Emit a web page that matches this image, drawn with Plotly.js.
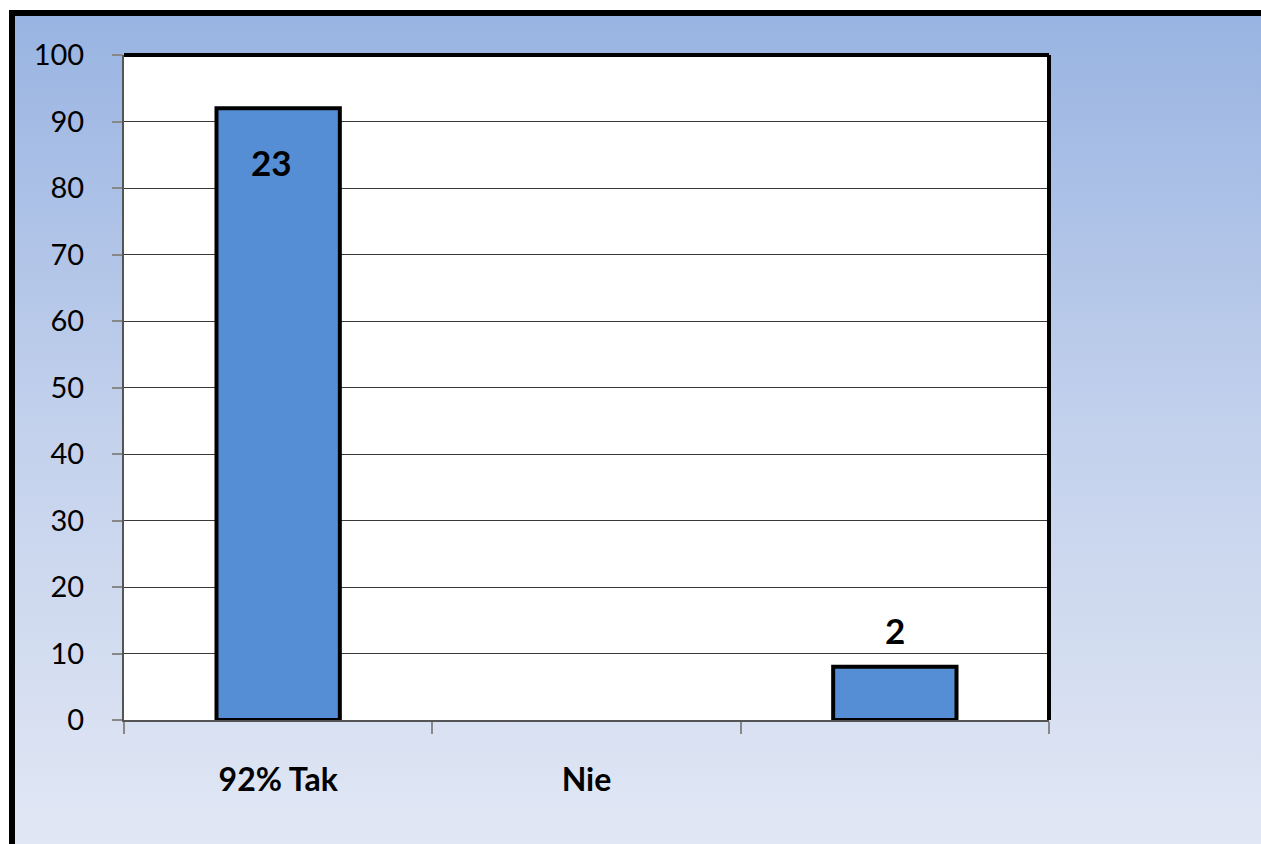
<!DOCTYPE html>
<html>
<head>
<meta charset="utf-8">
<script src="https://cdn.plot.ly/plotly-3.0.1.min.js"></script>
<style>
  html, body { margin: 0; padding: 0; width: 1261px; height: 844px; overflow: hidden; background: #ffffff; }
  #frame {
    position: absolute; left: 9px; top: 10px; width: 1252px; height: 834px;
    box-sizing: border-box; border-left: 6px solid #000; border-top: 6px solid #000;
    background: linear-gradient(to bottom, #99b4e2 0%, #c3d1ec 50%, #e1e7f4 100%);
  }
  #chart { position: absolute; left: 0; top: 0; width: 1261px; height: 844px; }
</style>
</head>
<body>
<div id="frame"></div>
<div id="chart"></div>
<script>
// Data
const categories = ["92% Tak", "Nie", ""];
const percentValues = [92, 0, 8];
const countLabels = ["23", "", "2"];
const yTickValues = [0, 10, 20, 30, 40, 50, 60, 70, 80, 90, 100];

const xIdx = categories.map((c, i) => i);

const trace = {
  type: "bar",
  x: xIdx,
  y: percentValues,
  width: 0.4,
  marker: {
    color: "#558ed5",
    line: { color: "#000000", width: percentValues.map(v => v > 0 ? 4 : 0) }
  },
  hoverinfo: "skip"
};

const annotations = [];
countLabels.forEach((t, i) => {
  if (!t) return;
  const inside = percentValues[i] > 50;
  annotations.push({
    x: xIdx[i], y: percentValues[i], xref: "x", yref: "y",
    text: "<b>" + t + "</b>", showarrow: false,
    xshift: inside ? -7 : 0,
    yanchor: inside ? "top" : "bottom",
    yshift: inside ? -31 : 14,
    font: { family: "Lato, 'Open Sans', sans-serif", size: 35, color: "#000000" }
  });
});

const layout = {
  width: 1261, height: 844,
  margin: { l: 124, r: 212, t: 55, b: 124 },
  paper_bgcolor: "rgba(0,0,0,0)",
  plot_bgcolor: "#ffffff",
  showlegend: false,
  xaxis: {
    range: [-0.5, 2.5],
    tickmode: "array", tickvals: xIdx,
    ticktext: categories.map(c => c ? "<b>" + c + "</b>" : ""),
    ticks: "", ticklabelstandoff: 31,
    tickfont: { family: "Lato, 'Open Sans', sans-serif", size: 32, color: "#000000" },
    showgrid: false, zeroline: false,
    showline: true, linecolor: "#555555", linewidth: 2,
    minor: { tick0: -0.5, dtick: 1, ticks: "outside", ticklen: 12, tickcolor: "#888888", tickwidth: 2, showgrid: false },
    fixedrange: true
  },
  yaxis: {
    range: [0, 100],
    tickmode: "array", tickvals: yTickValues,
    ticks: "outside", ticklen: 10, tickcolor: "#888888", tickwidth: 2,
    ticklabelstandoff: 22,
    tickfont: { family: "Lato, 'Open Sans', sans-serif", size: 29, color: "#000000" },
    showgrid: true, gridcolor: "#3a3a3a", gridwidth: 1,
    zeroline: false,
    showline: true, linecolor: "#555555", linewidth: 2,
    fixedrange: true
  },
  shapes: [
    { type: "line", xref: "paper", yref: "paper", x0: 0, x1: 1, y0: 1, y1: 1, line: { color: "#000000", width: 4 } },
    { type: "line", xref: "paper", yref: "paper", x0: 1, x1: 1, y0: 0, y1: 1, line: { color: "#000000", width: 4 } }
  ],
  annotations: annotations
};

Plotly.newPlot("chart", [trace], layout, { displayModeBar: false, staticPlot: true });
</script>
</body>
</html>
